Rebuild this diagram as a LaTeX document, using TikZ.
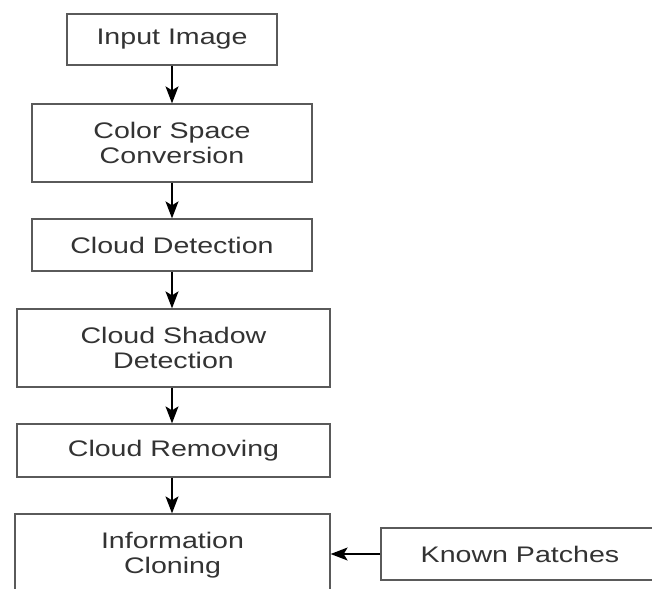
\documentclass[tikz,border=0pt]{standalone}
\usepackage{fontspec}
\setmainfont[FakeStretch=1.27]{Liberation Sans}
\usepackage{xcolor}
\usepackage{tikz}
\usetikzlibrary{arrows.meta, positioning}
\definecolor{boxline}{HTML}{5A5A5A}
\definecolor{boxtext}{HTML}{333333}
\tikzset{
    stage/.style={rectangle, draw=boxline, line width=1.3pt, fill=white, text=boxtext, align=center, inner sep=0pt, minimum width=#1, font=\fontsize{22.5}{25}\selectfont},
    flow/.style={-{Stealth[length=17pt, width=13pt, inset=4pt]}, line width=1.3pt, black}
}

\begin{document}
\begin{tikzpicture}[x=1pt, y=1pt]
    % Frame
    \useasboundingbox (0,0) rectangle (652,-588);
    \clip (0,0) rectangle (652,-588);
    \fill[white] (0,0) rectangle (652,-588);

    % Processing stages
    \node[stage=210pt, minimum height=51pt] (input) at (172,-39.5) {Input Image};
    \node[stage=280pt, minimum height=78pt] (color) at (172,-143) {Color Space\\Conversion};
    \node[stage=280pt, minimum height=52pt] (cloud) at (172,-245) {Cloud Detection};
    \node[stage=313pt, minimum height=78pt] (shadow) at (173.5,-348) {Cloud Shadow\\Detection};
    \node[stage=313pt, minimum height=53pt] (remove) at (173.5,-450.5) {Cloud Removing};
    \node[stage=315pt, minimum height=82pt] (clone) at (172.5,-555) {Information\\Cloning};
    \node[stage=278pt, minimum height=52pt] (known) at (520,-554) {Known Patches};

    % Arrows
    \draw[flow] (input) -- (color);
    \draw[flow] (color) -- (cloud);
    \draw[flow] (cloud.south -| input.south) -- (shadow.north -| input.south);
    \draw[flow] (shadow.south -| input.south) -- (remove.north -| input.south);
    \draw[flow] (remove.south -| input.south) -- (clone.north -| input.south);
    \draw[flow] (known) -- (clone.east |- known.west);
\end{tikzpicture}
\end{document}
